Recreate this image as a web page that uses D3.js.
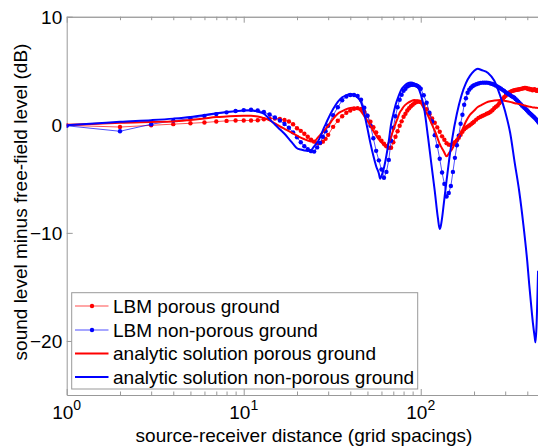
<!DOCTYPE html>
<html><head><meta charset="utf-8">
<script src="https://cdn.jsdelivr.net/npm/d3@7"></script>
<style>
body{margin:0;background:#fff}
svg{display:block}
text{font-family:Arial,"Liberation Sans",Helvetica,sans-serif;fill:#000}
</style>
</head><body>
<svg id="chart" width="538" height="447"></svg>
<script>
// ---------------- data ----------------
const seriesNames = ["LBM porous ground","LBM non-porous ground","analytic solution porous ground","analytic solution non-porous ground"];
const xTicks = [1, 10, 100];
const xTickExp = ["0", "1", "2"];
const yTicks = [-20, -10, 0, 10];
const xMinor = [2,3,4,5,6,7,8,9,20,30,40,50,60,70,80,90,200,300,400];

// analytic solutions (distance in grid spacings)
const distAnalytic = [1,1.5,2,3,4,5,6,7,8,9,10,11,12,13,14,15,16,17,18,19,20,21,22,23,24,25,26,27,28,29,30,
  32,34,36,38,40,42,44,46,48,50,52,54,56,58,59,60,62,64,66,68,70,72,74,76,78,80,84,88,92,96,100,
  105,110,115,120,125,128,130,132,135,140,145,150,160,170,180,190,200,210,220,
  240,260,280,300,320,340,360,380,400,410,420,430,440,445,450,460];
const analyticNonPorous = [-0.05,0.14,0.28,0.43,0.57,0.72,0.9,1.07,1.18,1.26,1.32,1.33,1.22,1.03,0.51,0.02,-0.42,-0.83,-1.3,-1.76,-2.17,-2.29,-2.38,-2.43,-2.35,-1.99,-1.64,-1.16,-0.51,0.04,0.56,
  1.45,2.12,2.55,2.73,2.84,2.75,2.52,2.1,1.03,-0.35,-1.72,-2.87,-3.83,-4.5,-4.99,-4.75,-3.97,-2.84,-1.5,0.05,0.98,1.81,2.4,2.91,3.31,3.53,3.83,3.91,3.81,3.54,2.84,
  1.32,-1.17,-3.72,-6.11,-8.62,-9.65,-9.32,-8.63,-7.29,-5.13,-3.13,-1.46,1.02,2.74,3.86,4.55,4.98,5.19,5.07,
  4.8,4.09,2.77,1.22,-0.74,-3.57,-6.15,-9.23,-12.69,-14.75,-16.6,-18.3,-19.6,-20.13,-19,-13.5];
const analyticPorous = [0,0.09,0.19,0.26,0.31,0.45,0.59,0.71,0.77,0.82,0.83,0.83,0.77,0.62,0.4,0.12,-0.15,-0.38,-0.59,-0.8,-1.01,-1.19,-1.33,-1.46,-1.54,-1.58,-1.25,-0.95,-0.67,-0.38,-0.1,
  0.55,1.02,1.26,1.45,1.56,1.61,1.48,1.25,0.8,0.36,-0.09,-0.58,-0.99,-1.34,-1.49,-1.63,-1.89,-2.05,-1.62,-1.09,-0.47,0.09,0.6,1.11,1.39,1.67,1.99,2.18,2.29,2.23,2.02,
  1.39,0.83,0.13,-0.55,-1.32,-1.78,-2.0,-2.2,-2.47,-2.92,-2.58,-2.28,-1.36,-0.61,0.3,0.94,1.3,1.64,1.82,
  2.13,2.24,2.29,2.21,2.12,2.0,1.92,1.82,1.72,1.68,1.65,1.61,1.6,1.58,1.58,1.55];

// LBM simulation samples (integer grid distances)
const distLBM = d3.range(1,31).concat(d3.range(32,101,2), d3.range(104,201,4), d3.range(206,471,6));
const lbmNonPorous = [-0.09,-0.6,0.05,0.37,0.58,0.81,0.99,1.15,1.27,1.36,1.39,1.33,1.18,0.95,0.68,0.39,0.07,-0.28,-0.7,-1.16,-1.62,-1.99,-2.27,-2.44,-2.48,-2.09,-1.67,-1.11,-0.6,-0.09,
  0.88,1.62,2.27,2.62,2.76,2.76,2.66,2.32,1.58,0.83,-0.09,-1.25,-2.41,-3.29,-4.13,-4.9,-4.36,-3.25,-1.48,-0.28,0.79,1.62,2.32,2.78,3.15,3.34,3.55,3.64,3.69,3.71,3.71,3.66,3.59,3.48,3.34,
  2.73,2.04,1.11,0.3,-0.96,-1.97,-3.14,-4.42,-5.47,-6.63,-6.31,-5.66,-4.36,-3.06,-1.9,-1.02,0.09,0.93,1.86,2.46,2.97,3.25,3.43,3.57,3.66,
  3.75,3.82,3.88,3.9,3.9,3.9,3.88,3.82,3.77,3.71,3.62,3.53,3.43,3.34,3.23,3.14,3.02,2.92,2.83,2.74,2.65,2.58,2.5,2.37,2.24,2.13,2.0,1.89,1.77,1.67,1.56,1.45,1.34,1.23,1.12,1.03,0.93,0.83,0.74,0.65,0.55,0.45,0.32,0.22,0.13];
const lbmPorous = [-0.05,-0.21,-0.05,0.06,0.14,0.21,0.3,0.36,0.39,0.4,0.4,0.42,0.51,0.58,0.58,0.53,0.44,0.3,0.05,-0.32,-0.56,-0.83,-1.11,-1.37,-1.56,-1.7,-1.7,-1.56,-1.3,-0.93,
  -0.19,0.37,0.79,1.11,1.32,1.48,1.54,1.47,1.21,0.83,0.28,-0.23,-0.7,-1.16,-1.47,-1.76,-1.99,-2.13,-2.12,-1.62,-1.11,-0.6,-0.09,0.32,0.74,1.02,1.32,1.53,1.72,1.86,1.99,2.08,2.15,2.14,2.11,
  1.86,1.44,0.98,0.58,0.19,-0.24,-0.65,-1.07,-1.39,-1.7,-1.84,-1.86,-1.74,-1.6,-1.44,-1.21,-0.93,-0.65,-0.42,-0.28,-0.17,-0.07,0.04,0.17,0.28,
  0.48,0.64,0.75,0.83,0.92,1.02,1.09,1.21,1.35,1.53,1.67,1.78,1.99,2.18,2.37,2.55,2.69,2.83,2.94,3.04,3.11,3.15,3.19,3.22,3.24,3.27,3.29,3.32,3.35,3.38,3.4,3.4,3.38,3.3,3.35,3.25,3.3,3.2,3.25,3.3,3.2,3.15,3.2,3.25,3.2];

// ---------------- chart ----------------
const RED = "#ff0000", BLUE = "#0000ff", AXIS = "#999999";
const FS = 19;
const svg = d3.select("#chart");
const pL = 66.7, pR = 541, pT = 16.7, pB = 395;
const x = d3.scaleLog().domain([1, 478]).range([pL, pR]);
const y = d3.scaleLinear().domain([-25, 10]).range([pB, pT]);

svg.append("defs").append("clipPath").attr("id","plotclip")
  .append("rect").attr("x", pL).attr("y", pT).attr("width", pR-pL).attr("height", pB-pT);

// axes (ticks inward, box)
const gB = svg.append("g").attr("transform", `translate(0,${pB})`)
  .call(d3.axisBottom(x).tickValues(xTicks.concat(xMinor)).tickSize(-5).tickSizeOuter(0).tickFormat(""));
gB.selectAll(".tick line").attr("y2", d => xTicks.includes(d) ? -6 : -3.5);
const gT = svg.append("g").attr("transform", `translate(0,${pT})`)
  .call(d3.axisTop(x).tickValues(xTicks.concat(xMinor)).tickSize(-5).tickSizeOuter(0).tickFormat(""));
gT.selectAll(".tick line").attr("y2", d => xTicks.includes(d) ? 6 : 3.5);
const gL = svg.append("g").attr("transform", `translate(${pL},0)`)
  .call(d3.axisLeft(y).tickValues(yTicks).tickSize(-6).tickSizeOuter(0).tickPadding(4.5).tickFormat(d3.format("d")));
gL.selectAll(".tick text").attr("font-size", FS).attr("font-family", "Arial, 'Liberation Sans', sans-serif").attr("fill","#000").attr("dy","0.34em");
[gB, gT, gL].forEach(g => {
  g.selectAll(".domain").attr("stroke", AXIS);
  g.selectAll(".tick line").attr("stroke", AXIS);
});
gT.selectAll(".domain").attr("stroke", "#7a7a7a");

// x tick labels with exponents
xTicks.forEach((t, i) => {
  const tx = svg.append("text").attr("x", x(t)).attr("y", 419).attr("text-anchor","middle").attr("font-size", FS);
  tx.append("tspan").text("10");
  tx.append("tspan").attr("dy", -9).attr("font-size", 14).text(xTickExp[i]);
});

// axis titles
svg.append("text").attr("x", 304).attr("y", 441.5).attr("text-anchor","middle").attr("font-size", FS)
  .text("source-receiver distance (grid spacings)");
svg.append("text").attr("transform", "translate(27,202) rotate(-90)").attr("text-anchor","middle").attr("font-size", FS)
  .text("sound level minus free-field level (dB)");

// data
const plot = svg.append("g").attr("clip-path", "url(#plotclip)");
const line = d3.line().x(d => x(d[0])).y(d => y(d[1])).curve(d3.curveMonotoneX);
const lbmP = distLBM.map((d,i) => [d, lbmPorous[i]]);
const lbmN = distLBM.map((d,i) => [d, lbmNonPorous[i]]);
const anP = distAnalytic.map((d,i) => [d, analyticPorous[i]]);
const anN = distAnalytic.map((d,i) => [d, analyticNonPorous[i]]);

function drawLBM(data, color) {
  plot.append("path").datum(data).attr("d", d3.line().x(d => x(d[0])).y(d => y(d[1])))
    .attr("fill","none").attr("stroke", color).attr("stroke-width", 0.7);
  plot.append("g").selectAll("circle").data(data).join("circle")
    .attr("cx", d => x(d[0])).attr("cy", d => y(d[1])).attr("r", 2.2).attr("fill", color);
}
drawLBM(lbmP, RED);
drawLBM(lbmN, BLUE);
plot.append("path").datum(anP).attr("d", line).attr("fill","none").attr("stroke", RED).attr("stroke-width", 2);
plot.append("path").datum(anN).attr("d", line).attr("fill","none").attr("stroke", BLUE).attr("stroke-width", 2);

// legend
const lg = svg.append("g");
lg.append("rect").attr("x", 71.7).attr("y", 292.7).attr("width", 346).attr("height", 96.3)
  .attr("fill","#fff").attr("stroke", AXIS).attr("stroke-width", 1);
const rowsY = [306, 330, 353.5, 377];
const legColors = [RED, BLUE, RED, BLUE];
seriesNames.forEach((name, i) => {
  const ry = rowsY[i];
  lg.append("line").attr("x1", 75).attr("x2", 108.5).attr("y1", ry).attr("y2", ry)
    .attr("stroke", legColors[i]).attr("stroke-width", i < 2 ? 0.7 : 2);
  if (i < 2) lg.append("circle").attr("cx", 92).attr("cy", ry).attr("r", 2.2).attr("fill", legColors[i]);
  lg.append("text").attr("x", 113).attr("y", ry).attr("dy", "0.35em").attr("font-size", FS).text(name);
});
</script>
</body></html>
